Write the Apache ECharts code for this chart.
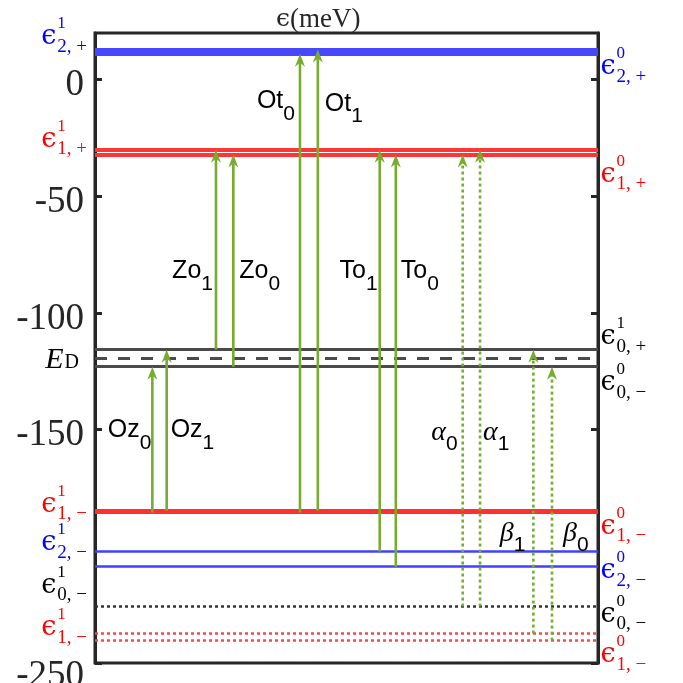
<!DOCTYPE html>
<html>
<head>
<meta charset="utf-8">
<script src="https://cdn.jsdelivr.net/npm/echarts@6/dist/echarts.min.js"></script>
<style>
  html, body { margin: 0; background: #fff; }
  #chart { width: 683px; height: 683px; }
</style>
</head>
<body>
<div id="chart"></div>
<script>
// energy levels (meV)
const levelNames  = ['e1_2p', 'e0_2p', 'e1_1p', 'e0_1p', 'e1_0p', 'ED', 'e0_0m', 'e1_1m', 'e0_1m', 'e1_2m', 'e0_2m', 'e_0m', 'e1_1mb', 'e0_1mb'];
const levelValues = [12.9, 11.1, -30.0, -32.1, -115.7, -119.5, -123.0, -184.7, -185.5, -202.2, -208.7, -225.8, -237.4, -240.4];
const levelKinds  = ['blue2', 'blue2', 'red2', 'red2', 'gray', 'dash', 'gray', 'red', 'red', 'blue', 'blue', 'dot', 'redDot', 'redDot'];

// labels next to the levels: [level, superscript, subscript]
const leftTags  = [['e1_2p', '1', '2, +'], ['e1_1p', '1', '1, +'], ['ED', 'E', 'D'], ['e1_1m', '1', '1, −'], ['e1_2m', '1', '2, −'], ['e_0m', '1', '0, −'], ['e1_1mb', '1', '1, −']];
const rightTags = [['e0_2p', '0', '2, +'], ['e0_1p', '0', '1, +'], ['e1_0p', '1', '0, +'], ['e0_0m', '0', '0, −'], ['e0_1m', '0', '1, −'], ['e0_2m', '0', '2, −'], ['e_0m', '0', '0, −'], ['e0_1mb', '0', '1, −']];

// transitions
const arrowNames = ['Oz', 'Oz', 'Zo', 'Zo', 'Ot', 'Ot', 'To', 'To', 'α', 'α', 'β', 'β'];
const arrowSubs  = ['0', '1', '1', '0', '0', '1', '1', '0', '0', '1', '1', '0'];
const arrowX     = [11.4, 14.25, 24.05, 27.5, 40.75, 44.3, 56.6, 59.8, 73.1, 76.55, 87.15, 90.85];
const arrowFrom  = ['e0_1m', 'e1_1m', 'e1_0p', 'e0_0m', 'e0_1m', 'e1_1m', 'e1_2m', 'e0_2m', 'e_0m', 'e_0m', 'e1_1mb', 'e0_1mb'];
const arrowTo    = ['e0_0m', 'e1_0p', 'e1_1p', 'e0_1p', 'e0_2p', 'e1_2p', 'e1_1p', 'e0_1p', 'e0_1p', 'e1_1p', 'e1_0p', 'e0_0m'];
const arrowDotted = [false, false, false, false, false, false, false, false, true, true, true, true];

const yTicks = [-250, -150, -100, -50, 0];

// layout of the texts (px offsets / label heights), kept apart from the data
const leftTagDy  = [-12.5, -10, 1.5, -6, -8, -21, -5.5];
const rightTagDy = [13.5, 20, -12.5, 16.5, 14.5, 4.5, 8, 14.5];
const arrowLabelDx = [-1, 4, -3, 6, -5, 7, -2, 5, -5, 3, -8, 11];
const arrowLabelAt = [-149.7, -149.7, -81.6, -81.6, -8.7, -9.8, -81.6, -81.6, -150.1, -150.1, -193.4, -193.4];

const GREEN = '#77ac30';
const INK = '#262626';
const kindStyle = {
  blue2:  { color: '#4747ff', width: 4, type: 'solid' },
  red2:   { color: '#ff3636', width: 4, type: 'solid' },
  gray:   { color: '#4a4a4a', width: 3, type: 'solid' },
  dash:   { color: '#4a4a4a', width: 3, type: [12, 11] },
  red:    { color: '#ff3030', width: 3, type: 'solid' },
  blue:   { color: '#4040ff', width: 2.5, type: 'solid' },
  dot:    { color: '#333333', width: 2.5, type: [3, 3] },
  redDot: { color: '#ff4545', width: 2.5, type: [3, 3] }
};
const textColor = { blue2: '#0000ff', blue: '#0000ff', red2: '#ff0000', red: '#ff0000', redDot: '#ff0000', gray: '#000', dash: '#000', dot: '#000' };

const level = name => levelValues[levelNames.indexOf(name)];
const kindOf = name => levelKinds[levelNames.indexOf(name)];

const SERIF = 'Liberation Serif';
const SANS = 'Liberation Sans';
const GREEK = 'DejaVu Serif';

// text measuring for the stacked super/subscripts
const mctx = document.createElement('canvas').getContext('2d');
const textWidth = (s, size, family) => {
  mctx.font = `${size}px "${family || SERIF}"`;
  return mctx.measureText(s).width;
};

const EPS = 27, SUP = 17, SUB = 19;

const tagSeries = (tags, dys, side) => ({
  type: 'custom',
  coordinateSystem: 'cartesian2d',
  silent: true,
  clip: false,
  z: 6,
  data: tags.map(t => [side === 'left' ? 0 : 100, level(t[0])]),
  renderItem: (params, api) => {
    const i = params.dataIndex;
    const t = tags[i];
    const p = api.coord([api.value(0), api.value(1)]);
    const color = textColor[kindOf(t[0])];
    const cy = p[1] + dys[i];
    const txt = (text, x, y, size, align, italic, family) => ({
      type: 'text',
      style: {
        text, x, y, align, verticalAlign: 'middle', fill: color,
        fontFamily: family || SERIF, fontSize: size, fontStyle: italic ? 'italic' : 'normal'
      }
    });
    if (t[1] === 'E') {
      const xr = p[0] - 16;
      const dw = textWidth('D', 20);
      return { type: 'group', children: [txt('D', xr, cy + 3, 20, 'right'), txt('E', xr - dw - 1, cy, 30, 'right', true)] };
    }
    const ew = textWidth('ϵ', EPS, GREEK) + 1;
    const x0 = side === 'left' ? p[0] - 8 - textWidth(t[2], SUB) - ew : p[0] + 2.5;
    return {
      type: 'group',
      children: [
        txt('ϵ', x0, cy, EPS, 'left', false, GREEK),
        txt(t[1], x0 + ew, cy - 13.5, SUP, 'left'),
        txt(t[2], x0 + ew, cy + 9.5, SUB, 'left')
      ]
    };
  }
});

const arrowRich = {
  m: { fontFamily: SANS, fontSize: 25, lineHeight: 24, verticalAlign: 'top', fill: '#000' },
  g: { fontFamily: SERIF, fontStyle: 'italic', fontSize: 28, lineHeight: 26, verticalAlign: 'top', fill: '#000' },
  s: { fontFamily: SANS, fontSize: 21, lineHeight: 50, fill: '#000' }
};

const renderArrow = (params, api) => {
  const i = params.dataIndex;
  const p0 = api.coord([api.value(0), api.value(1)]);
  const p1 = api.coord([api.value(0), api.value(2)]);
  const hl = 13, hw = 5, notch = 4;
  const x = p0[0];
  const left = i % 2 === 0;
  const greek = arrowNames[i] === 'α' || arrowNames[i] === 'β';
  const ly = api.coord([0, arrowLabelAt[i]])[1];
  return {
    type: 'group',
    children: [
      {
        type: 'line',
        shape: { x1: x, y1: p0[1], x2: x, y2: p1[1] + hl - notch },
        style: { stroke: GREEN, lineWidth: 2.6, lineDash: arrowDotted[i] ? [3, 3] : null }
      },
      {
        type: 'polygon',
        shape: { points: [[x, p1[1]], [x - hw, p1[1] + hl], [x, p1[1] + hl - notch], [x + hw, p1[1] + hl]] },
        style: { fill: GREEN }
      },
      {
        type: 'text',
        style: {
          text: `{${greek ? 'g' : 'm'}|${arrowNames[i]}}{s|${arrowSubs[i]}}`,
          rich: arrowRich,
          x: x + arrowLabelDx[i],
          y: ly - 11,
          align: left ? 'right' : 'left',
          verticalAlign: 'top'
        }
      }
    ]
  };
};

const chart = echarts.init(document.getElementById('chart'));
chart.setOption({
  animation: false,
  backgroundColor: '#fff',
  title: {
    text: '{e|ϵ}(meV)',
    left: 271,
    top: 1,
    textStyle: {
      fontFamily: SERIF, fontSize: 27, fontWeight: 'normal', color: INK,
      rich: { e: { fontFamily: GREEK, fontSize: 25, color: INK } }
    }
  },
  grid: {
    left: 95, right: 85, top: 33, bottom: 20,
    outerBoundsMode: 'none', containLabel: false,
    show: true, borderColor: INK, borderWidth: 3
  },
  xAxis: { type: 'value', min: 0, max: 100, show: false },
  yAxis: [
    {
      type: 'value', min: -250, max: 20, position: 'left',
      splitLine: { show: false },
      axisLine: { show: true, lineStyle: { color: INK, width: 3 } },
      axisTick: { show: true, inside: true, length: 7, customValues: yTicks, lineStyle: { color: INK, width: 3 } },
      axisLabel: {
        customValues: yTicks, margin: 11, padding: [12, 0, 0, 0],
        fontFamily: SERIF, fontSize: 37, color: INK,
        formatter: v => v === -250 ? `{low|${v}}` : `${v}`,
        rich: { low: { fontFamily: SERIF, fontSize: 37, color: INK, padding: [14, 0, 0, 0] } }
      }
    },
    {
      type: 'value', min: -250, max: 20, position: 'right',
      splitLine: { show: false },
      axisLine: { show: true, lineStyle: { color: INK, width: 3 } },
      axisTick: { show: true, inside: true, length: 7, customValues: yTicks, lineStyle: { color: INK, width: 3 } },
      axisLabel: { show: false }
    }
  ],
  series: [
    {
      type: 'lines',
      coordinateSystem: 'cartesian2d',
      silent: true,
      z: 2,
      data: levelNames.map((n, i) => {
        const st = kindStyle[levelKinds[i]];
        return {
          coords: [[0, levelValues[i]], [100, levelValues[i]]],
          lineStyle: { color: st.color, width: st.width, type: st.type, opacity: 1 }
        };
      })
    },
    {
      type: 'custom',
      coordinateSystem: 'cartesian2d',
      silent: true,
      z: 5,
      clip: false,
      encode: { x: 0, y: [1, 2] },
      data: arrowX.map((x, i) => [x, level(arrowFrom[i]), level(arrowTo[i])]),
      renderItem: renderArrow
    },
    tagSeries(leftTags, leftTagDy, 'left'),
    tagSeries(rightTags, rightTagDy, 'right')
  ]
});
</script>
</body>
</html>
